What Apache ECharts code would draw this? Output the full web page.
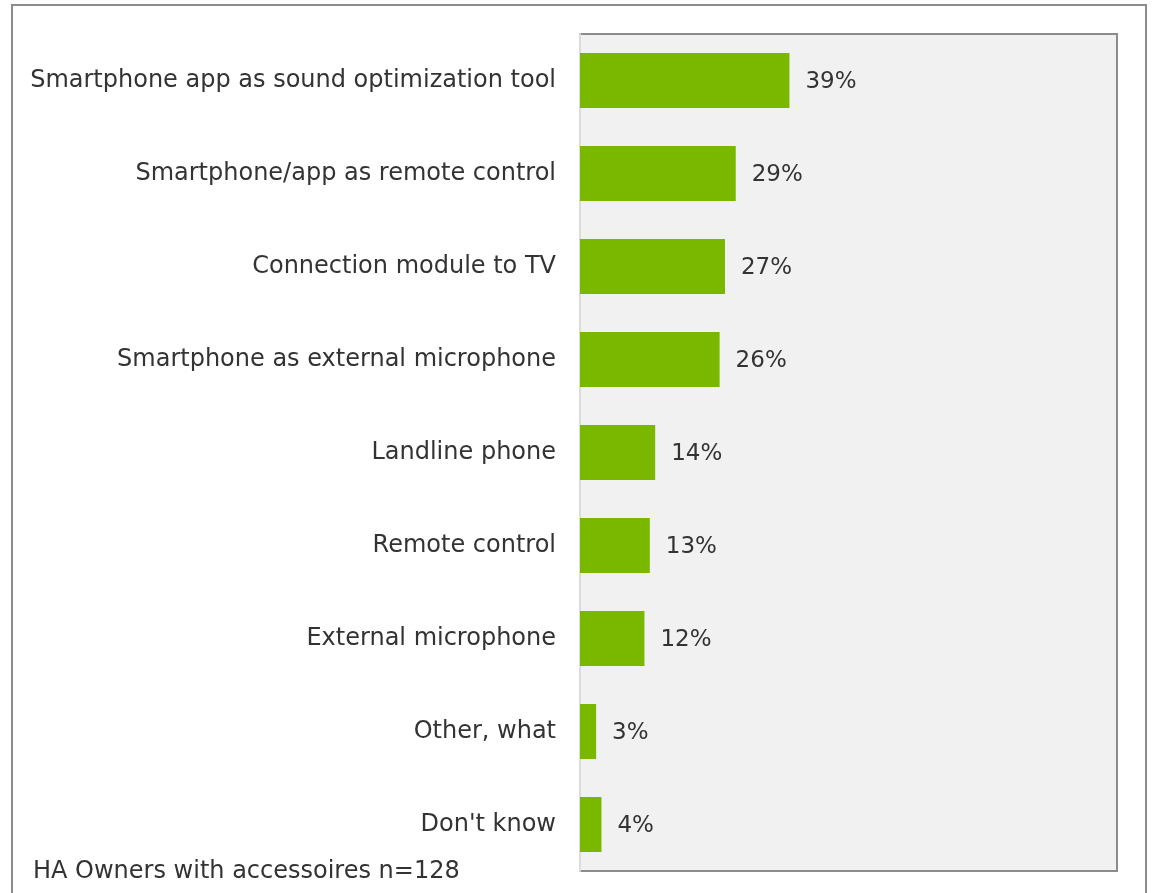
<!DOCTYPE html>
<html><head><meta charset="utf-8">
<script src="https://cdn.jsdelivr.net/npm/echarts@6/dist/echarts.min.js"></script>
<style>html,body{margin:0;padding:0;background:#fff}#c{width:1153px;height:893px}</style>
</head><body><div id="c"></div>
<script>
const categories = [
  "Smartphone app as sound optimization tool",
  "Smartphone/app as remote control",
  "Connection module to TV",
  "Smartphone as external microphone",
  "Landline phone",
  "Remote control",
  "External microphone",
  "Other, what",
  "Don't know"
];
const values = [39, 29, 27, 26, 14, 13, 12, 3, 4];
const footnote = "HA Owners with accessoires n=128";

const FONT = "DejaVu Sans";
const chart = echarts.init(document.getElementById('c'), null, {renderer: 'canvas'});
chart.setOption({
  animation: false,
  backgroundColor: '#ffffff',
  grid: {
    left: 580, top: 34, right: 36, bottom: 22,
    show: true, backgroundColor: '#f1f1f1', borderColor: '#8c8c8c', borderWidth: 2
  },
  xAxis: {
    type: 'value', min: 0, max: 100,
    show: false
  },
  yAxis: {
    type: 'category', data: categories, inverse: true,
    axisLine: {show: true, lineStyle: {color: '#dcdcdc', width: 2}},
    axisTick: {show: false},
    splitLine: {show: false},
    axisLabel: {color: '#333333', fontFamily: FONT, fontSize: 24, margin: 24, padding: [4, 0, 0, 0]}
  },
  series: [{
    type: 'bar', data: values, barCategoryGap: '41%',
    itemStyle: {color: '#7ab800'},
    label: {show: true, position: 'right', distance: 16, offset: [0, 2], formatter: '{c}%',
      color: '#333333', fontFamily: FONT, fontSize: 23}
  }],
  graphic: [
    {type: 'rect', shape: {x: 12, y: 5, width: 1134, height: 900},
      style: {fill: 'none', stroke: '#8c8c8c', lineWidth: 2}, z: 100},
    {type: 'text', left: 33, top: 860,
      style: {text: footnote, fill: '#333333', font: '24px "DejaVu Sans"'}}
  ]
});
</script></body></html>
